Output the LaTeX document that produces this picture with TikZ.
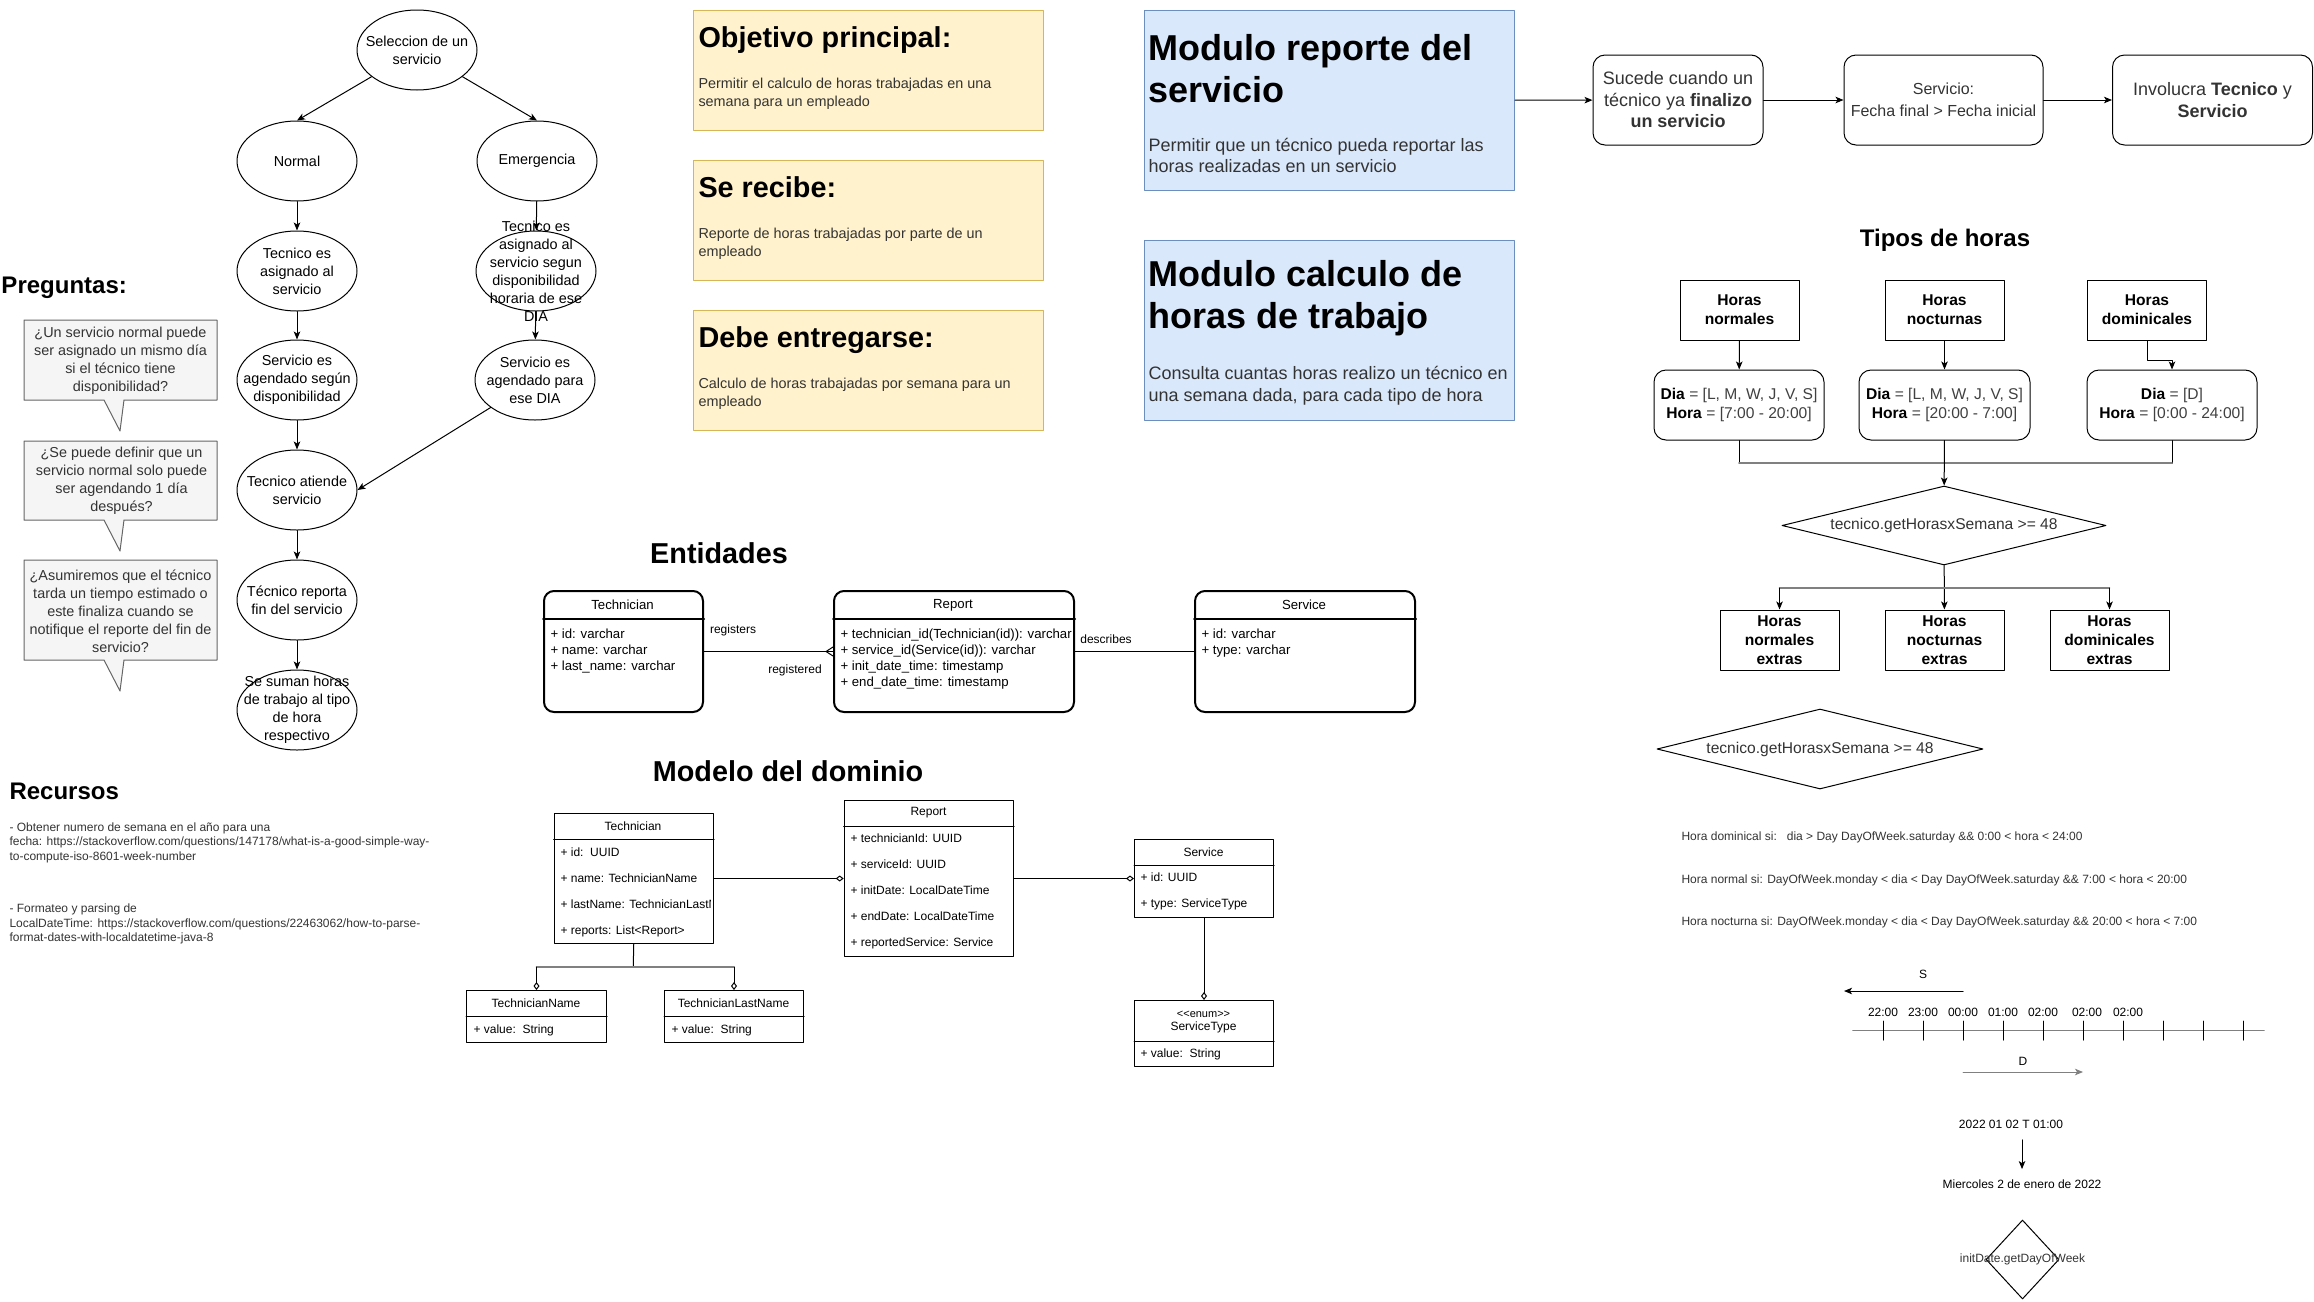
\documentclass[tikz,border=0pt]{standalone}
\usepackage{fontspec}
\setmainfont{Liberation Sans}
\usetikzlibrary{arrows,arrows.meta,shapes.geometric}
\definecolor{notefill}{HTML}{F5F5F5}
\definecolor{notedraw}{HTML}{666666}
\definecolor{notetext}{HTML}{333333}
\definecolor{ruletext}{HTML}{404040}
\definecolor{yelfill}{HTML}{FFF2CC}
\definecolor{yeldraw}{HTML}{D6B656}
\definecolor{blufill}{HTML}{DAE8FC}
\definecolor{bludraw}{HTML}{6C8EBF}
\definecolor{wire}{HTML}{808080}

\begin{document}
\begin{tikzpicture}[line cap=round,line join=round,>={Stealth[length=8pt,width=6.5pt,inset=2pt]},x=1pt,y=-1pt,line width=1pt,
    every node/.style={inner sep=0},
    fa/.style={font=\fontsize{12}{14.4}\selectfont},
    fb/.style={font=\fontsize{13.2}{16}\selectfont},
    fc/.style={font=\fontsize{14.4}{18}\selectfont},
    fd/.style={font=\fontsize{15.6}{19}\selectfont},
    fe/.style={font=\fontsize{18}{21.5}\selectfont},
    rows/.style={font=\fontsize{12}{26}\selectfont,align=left,anchor=west},
    hsmall/.style={font=\fontsize{24}{29}\selectfont\bfseries},
    hmid/.style={font=\fontsize{28.8}{34}\selectfont\bfseries},
    hbig/.style={font=\fontsize{36}{42}\selectfont\bfseries},
    oval/.style={ellipse,draw,minimum width=120,minimum height=80},
    note/.style={draw=notedraw,fill=notefill},
    yelbox/.style={draw=yeldraw,fill=yelfill,minimum width=350,minimum height=120,anchor=north west},
    blubox/.style={draw=bludraw,fill=blufill,minimum width=370,minimum height=180,anchor=north west},
    rbox/.style={draw,rounded corners=12,align=center,text=notetext},
    hbox/.style={draw,minimum width=119,minimum height=60,align=center,font=\fontsize{15.6}{19}\selectfont\bfseries},
    dia/.style={diamond,draw,aspect=4.1,text=notetext,fd},
    ebox/.style={draw,rounded corners=10,line width=2pt,minimum height=121,anchor=north west},
    cbox/.style={draw,anchor=north west},
    wireline/.style={draw=wire,line width=1.6pt},
    aggr/.style={-{Diamond[open,length=8pt,width=6pt]}}]
  \useasboundingbox (0,0) rectangle (2314,1301);

  \node[oval] (sel) at (417,50) {};
  \node[fc,align=center] (sel-t) at (sel) {Seleccion de un\\servicio};
  \node[oval] (nor) at (297,161) {};
  \node[fc] (nor-t) at (nor) {Normal};
  \node[oval] (eme) at (537,161) {};
  \node[fc] (eme-t) at (eme) {Emergencia};
  \node[oval] (asg) at (297,271) {};
  \node[fc,align=center] (asg-t) at (asg) {Tecnico es\\asignado al\\servicio};
  \node[oval] (asge) at (536,271) {};
  \node[fc,align=center] (asge-t) at (asge) {Tecnico es\\asignado al\\servicio segun\\disponibilidad\\horaria de ese\\DIA};
  \node[oval] (age) at (297,380) {};
  \node[fc,align=center] (age-t) at (age) {Servicio es\\agendado según\\disponibilidad};
  \node[oval] (agee) at (535,380) {};
  \node[fc,align=center] (agee-t) at (agee) {Servicio es\\agendado para\\ese DIA};
  \node[oval] (ati) at (297,490) {};
  \node[fc,align=center] (ati-t) at (ati) {Tecnico atiende\\servicio};
  \node[oval] (fin) at (297,600) {};
  \node[fc,align=center] (fin-t) at (fin) {Técnico reporta\\fin del servicio};
  \node[oval] (sum) at (297,710) {};
  \node[fc,align=center] (sum-t) at (sum) {Se suman horas\\de trabajo al tipo\\de hora\\respectivo};
  \draw[->] (sel) -- (nor.north);
  \draw[->] (sel) -- (eme.north);
  \draw[->] (nor) -- (asg);
  \draw[->] (asg) -- (age);
  \draw[->] (age) -- (ati);
  \draw[->] (ati) -- (fin);
  \draw[->] (fin) -- (sum);
  \draw[->] (eme) -- (asge);
  \draw[->] (asge) -- (agee);
  \draw[->] (agee) -- (ati.east);

  \node[hsmall,anchor=base west] (preg-h) at (1,293.3) {Preguntas:};
  \foreach \ya/\yb in {320/400,441/520,560/660}
    \draw[note] (24,\ya) -- (217,\ya) -- (217,\yb) -- (124,\yb) -- (120,\yb+31) -- (104,\yb) -- (24,\yb) -- cycle;
  \node[fc,text=notetext,align=center] (q1) at (120.5,361) {¿Un servicio normal puede\\ser asignado un mismo día\\si el técnico tiene\\disponibilidad?};
  \node[fc,text=notetext,align=center] (q2) at (121.5,481) {¿Se puede definir que un\\servicio normal solo puede\\ser agendando 1 día\\después?};
  \node[fc,text=notetext,align=center] (q3) at (120.5,611) {¿Asumiremos que el técnico\\tarda un tiempo estimado o\\este finaliza cuando se\\notifique el reporte del fin de\\servicio?};

  \node[hsmall,anchor=base west] (recur-h) at (9,799.7) {Recursos};
  \node[fa,text=notetext,align=left,anchor=west] (recur-a) at (9,842.5) {- Obtener numero de semana en el año para una\\fecha: https://stackoverflow.com/questions/147178/what-is-a-good-simple-way-\\to-compute-iso-8601-week-number};
  \node[fa,text=notetext,align=left,anchor=west] (recur-b) at (9,924) {- Formateo y parsing de\\LocalDateTime: https://stackoverflow.com/questions/22463062/how-to-parse-\\format-dates-with-localdatetime-java-8};

  \node[yelbox] (obj) at (693,10) {};
  \node[hmid,anchor=base west] (obj-h) at (698,47.6) {Objetivo principal:};
  \node[fc,text=notetext,align=left,anchor=west] (obj-b) at (698,94) {Permitir el calculo de horas trabajadas en una\\semana para un empleado};
  \node[yelbox] (reci) at (693,160) {};
  \node[hmid,anchor=base west] (reci-h) at (698,197.6) {Se recibe:};
  \node[fc,text=notetext,align=left,anchor=west] (reci-b) at (698,244) {Reporte de horas trabajadas por parte de un\\empleado};
  \node[yelbox] (entr) at (693,310) {};
  \node[hmid,anchor=base west] (entr-h) at (698,347.6) {Debe entregarse:};
  \node[fc,text=notetext,align=left,anchor=west] (entr-b) at (698,394) {Calculo de horas trabajadas por semana para un\\empleado};

  \node[blubox] (modrep) at (1144,10) {};
  \node[hbig,align=left,anchor=west] (modrep-h) at (1148,68.4) {Modulo reporte del\\servicio};
  \node[fe,text=notetext,align=left,anchor=west] (modrep-b) at (1148,155.5) {Permitir que un técnico pueda reportar las\\horas realizadas en un servicio};
  \node[blubox] (modcal) at (1144,240) {};
  \node[hbig,align=left,anchor=west] (modcal-h) at (1148,298.5) {Modulo calculo de\\horas de trabajo};
  \node[fe,text=notetext,align=left,anchor=west] (modcal-b) at (1148,385.5) {Consulta cuantas horas realizo un técnico en\\una semana dada, para cada tipo de hora};

  \node[rbox,fe,minimum width=170,minimum height=90] (s1) at (1678,100) {Sucede cuando un\\técnico ya \textbf{finalizo}\\\textbf{un servicio}};
  \node[rbox,font=\fontsize{16}{22}\selectfont,minimum width=199,minimum height=90] (s2) at (1943.5,100) {Servicio:\\Fecha final > Fecha inicial};
  \node[rbox,fe,minimum width=200,minimum height=90] (s3) at (2212.5,100) {Involucra \textbf{Tecnico} y\\\textbf{Servicio}};
  \draw[->] (modrep) -- (s1);
  \draw[->] (s1) -- (s2);
  \draw[->] (s2) -- (s3);

  \node[hsmall] (tipos) at (1945,240) {Tipos de horas};
  \node[hbox] (hn) at (1739.5,310) {Horas\\normales};
  \node[hbox] (hno) at (1944.5,310) {Horas\\nocturnas};
  \node[hbox] (hdo) at (2147,310) {Horas\\dominicales};
  \node[rbox,fd,text=ruletext,minimum width=170,minimum height=70] (rla) at (1739,405) {\textcolor{black}{\textbf{Dia}} = [L, M, W, J, V, S]\\\textcolor{black}{\textbf{Hora}} = [7:00 - 20:00]};
  \node[rbox,fd,text=ruletext,minimum width=171,minimum height=70] (rlb) at (1944.5,405) {\textcolor{black}{\textbf{Dia}} = [L, M, W, J, V, S]\\\textcolor{black}{\textbf{Hora}} = [20:00 - 7:00]};
  \node[rbox,fd,text=ruletext,minimum width=170,minimum height=70] (rlc) at (2172,405) {\textcolor{black}{\textbf{Dia}} = [D]\\\textcolor{black}{\textbf{Hora}} = [0:00 - 24:00]};
  \draw[->] (hn) -- (rla);
  \draw[->] (hno) -- (rlb);
  \draw[->] (hdo.south) -- ++(0,20) -| (rlc.north);
  \coordinate (merge) at (1944,463);
  \draw (rla.south) -- (rla.south |- merge);
  \draw (rlc.south) -- (rlc.south |- merge);
  \draw[wireline] (rla.south |- merge) -- (rlc.south |- merge);
  \node[dia,minimum width=324,minimum height=79] (dm) at (1944,525.5) {tecnico.getHorasxSemana >= 48};
  \draw[->] (rlb) -- (dm);
  \node[hbox] (x1) at (1779.5,640) {Horas\\normales\\extras};
  \node[hbox] (x2) at (1944.5,640) {Horas\\nocturnas\\extras};
  \node[hbox] (x3) at (2109.5,640) {Horas\\dominicales\\extras};
  \coordinate (split) at (1944,588);
  \draw[->] (dm) -- (x2);
  \draw[wireline] (x1.north |- split) -- (x3.north |- split);
  \draw[->] (x1.north |- split) -- (x1.north);
  \draw[->] (x3.north |- split) -- (x3.north);

  \node[dia,minimum width=326,minimum height=80] (dm2) at (1820,749) {tecnico.getHorasxSemana >= 48};
  \node[fa,text=notetext,anchor=west] (rdom) at (1681,837) {Hora dominical si:\ \ \ dia > Day DayOfWeek.saturday \&\& 0:00 < hora < 24:00};
  \node[fa,text=notetext,anchor=west] (rnor) at (1681,880) {Hora normal si: DayOfWeek.monday < dia < Day DayOfWeek.saturday \&\& 7:00 < hora < 20:00};
  \node[fa,text=notetext,anchor=west] (rnoc) at (1681,922) {Hora nocturna si: DayOfWeek.monday < dia < Day DayOfWeek.saturday \&\& 20:00 < hora < 7:00};

  \node[fa] (lbs) at (1923,974) {S};
  \coordinate (sa) at (1963,991);
  \coordinate (sb) at (1844,991);
  \draw[->] (sa) -- (sb);
  \foreach \x/\t [count=\i] in {1883/22:00,1923/23:00,1963/00:00,2003/01:00,2043/02:00,2087/02:00,2128/02:00}
    \node[fa] (tk\i) at (\x,1012) {\t};
  \draw[wireline] (1853,1030.5) -- (2264,1030.5);
  \foreach \x in {0,...,9}
    \draw (1883+40*\x,1021) -- (1883+40*\x,1040);
  \node[fa] (lbd) at (2023,1061) {D};
  \coordinate (da) at (1963,1072);
  \coordinate (db) at (2083,1072);
  \draw[->,wire] (da) -- (db);
  \node[fa] (dt) at (2011,1124) {2022 01 02 T 01:00};
  \node[fa] (mie) at (2022,1184) {Miercoles 2 de enero de 2022};
  \draw[->,shorten <=11pt,shorten >=10pt] (mie.north |- dt.south) -- (mie.north);
  \node[diamond,draw,aspect=0.92,minimum width=73,minimum height=79] (dw) at (2022.5,1259.5) {};
  \node[fa,text=notetext] (dw-t) at (dw) {initDate.getDayOfWeek};

  \node[hmid] (ent-h) at (719,553) {Entidades};
  \node[ebox,minimum width=159] (etech) at (543,590) {};
  \draw[line width=2pt] ([yshift=-29pt]etech.north west) -- ([yshift=-29pt]etech.north east);
  \node[fb] (etech-h) at (622.5,605) {Technician};
  \node[fb,align=left,anchor=west] (etech-a) at (550,651) {+ id: varchar\\+ name: varchar\\+ last\_name: varchar};
  \node[ebox,minimum width=240] (erep) at (833,590) {};
  \draw[line width=2pt] ([yshift=-29pt]erep.north west) -- ([yshift=-29pt]erep.north east);
  \node[fb] (erep-h) at (953,605) {Report};
  \node[fb,align=left,anchor=west] (erep-a) at (840,659) {+ technician\_id(Technician(id)): varchar\\+ service\_id(Service(id)): varchar\\+ init\_date\_time: timestamp\\+ end\_date\_time: timestamp};
  \node[ebox,minimum width=220] (eserv) at (1194,590) {};
  \draw[line width=2pt] ([yshift=-29pt]eserv.north west) -- ([yshift=-29pt]eserv.north east);
  \node[fb] (eserv-h) at (1304,605) {Service};
  \node[fb,align=left,anchor=west] (eserv-a) at (1201,643) {+ id: varchar\\+ type: varchar};
  \draw (etech) -- (erep);
  \draw (erep.west) ++(-7,0) -- ++(7,-4.5) (erep.west) ++(-7,0) -- ++(7,4.5);
  \draw (eserv) -- (erep);
  \node[fa] (lreg) at (733,630) {registers};
  \node[fa] (lregd) at (795,670) {registered};
  \node[fa] (ldes) at (1106,639) {describes};

  \node[hmid] (dom-h) at (788,771) {Modelo del dominio};
  \node[cbox,minimum width=159.5,minimum height=130] (ctech) at (553.5,813) {};
  \draw ([yshift=-26pt]ctech.north west) -- ([yshift=-26pt]ctech.north east);
  \node[fa] (ctech-h) at (633,826.5) {Technician};
  \begin{scope}
    \clip (553.5,813) rectangle (710,943);
    \node[rows] (ctech-a) at (560,892) {+ id:\ \ UUID\\+ name: TechnicianName\\+ lastName: TechnicianLastName\\+ reports: List<Report>};
  \end{scope}
  \node[cbox,minimum width=169.3,minimum height=156] (crep) at (843.7,800) {};
  \draw ([yshift=-26pt]crep.north west) -- ([yshift=-26pt]crep.north east);
  \node[fa] (crep-h) at (928.5,813) {Report};
  \node[rows] (crep-a) at (850,891) {+ technicianId: UUID\\+ serviceId: UUID\\+ initDate: LocalDateTime\\+ endDate: LocalDateTime\\+ reportedService: Service};
  \node[cbox,minimum width=139,minimum height=78] (cserv) at (1134,839) {};
  \draw ([yshift=-26pt]cserv.north west) -- ([yshift=-26pt]cserv.north east);
  \node[fa] (cserv-h) at (1203.5,852) {Service};
  \node[rows] (cserv-a) at (1140,891) {+ id: UUID\\+ type: ServiceType};
  \node[cbox,minimum width=139,minimum height=66] (ctype) at (1134,1000) {};
  \draw ([yshift=-41pt]ctype.north west) -- ([yshift=-41pt]ctype.north east);
  \node[font=\fontsize{11}{13}\selectfont] (ctype-s) at (1203.5,1014) {<{}<enum>{}>};
  \node[fa] (ctype-h) at (1203.5,1027.5) {ServiceType};
  \node[rows] (ctype-a) at (1140,1054) {+ value:\ \ String};
  \node[cbox,minimum width=140,minimum height=52] (cname) at (466,990) {};
  \draw ([yshift=-26pt]cname.north west) -- ([yshift=-26pt]cname.north east);
  \node[fa] (cname-h) at (536,1003.5) {TechnicianName};
  \node[rows] (cname-a) at (473,1030) {+ value:\ \ String};
  \node[cbox,minimum width=139,minimum height=52] (clast) at (664,990) {};
  \draw ([yshift=-26pt]clast.north west) -- ([yshift=-26pt]clast.north east);
  \node[fa] (clast-h) at (733.5,1003.5) {TechnicianLastName};
  \node[rows] (clast-a) at (671,1030) {+ value:\ \ String};
  \draw[aggr] (ctech) -- (crep);
  \draw[aggr] (crep) -- (cserv);
  \coordinate (tsplit) at (633.25,967);
  \draw (ctech.south) -- (tsplit);
  \draw[wireline] (cname.north |- tsplit) -- (clast.north |- tsplit);
  \draw[aggr] (cname.north |- tsplit) -- (cname.north);
  \draw[aggr] (clast.north |- tsplit) -- (clast.north);
  \draw[aggr] (cserv) -- (ctype);
\end{tikzpicture}
\end{document}
